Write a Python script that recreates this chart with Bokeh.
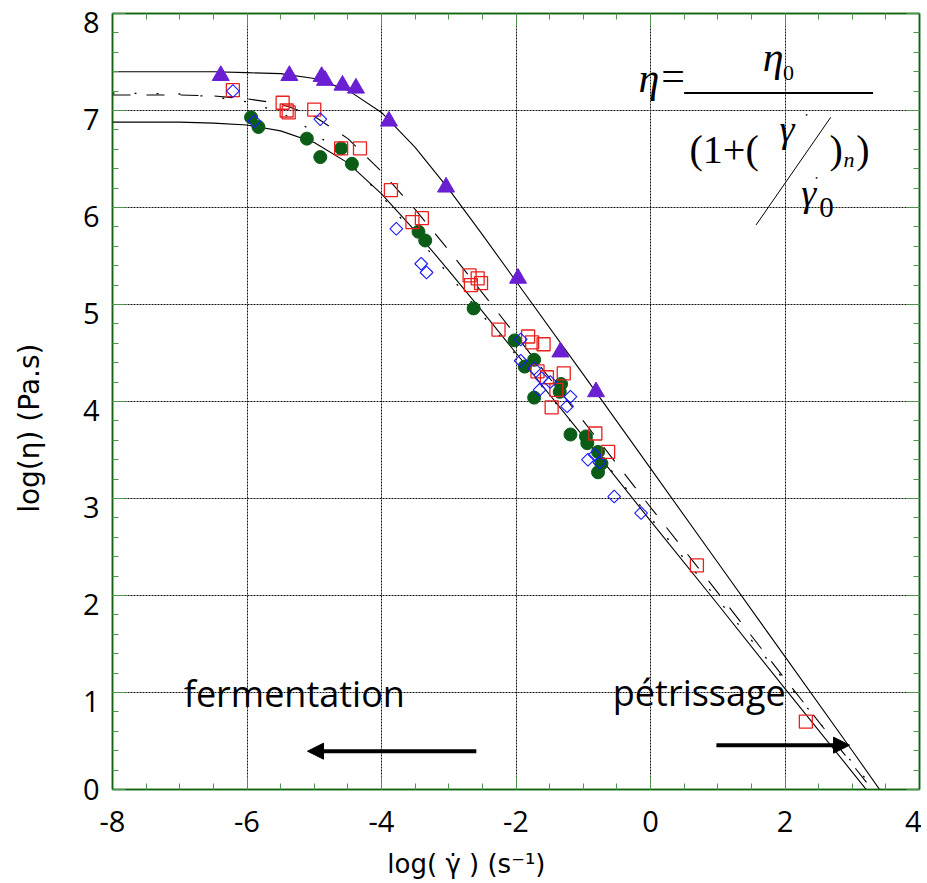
import numpy as np
from bokeh.plotting import figure
from bokeh.models import (LinearAxis, Range1d, FixedTicker, Label, Arrow, NormalHead,
                          ColumnDataSource)
from bokeh.embed import file_html
from bokeh.resources import INLINE

# ---------------- data ----------------
tri_x = [-6.39, -5.37, -4.89, -4.84, -4.58, -4.38, -3.89, -3.04, -1.97, -1.34, -0.81]
tri_y = [7.36, 7.36, 7.35, 7.31, 7.26, 7.23, 6.89, 6.21, 5.27, 4.51, 4.10]

circ_x = [-5.94, -5.83, -5.11, -4.91, -4.60, -4.44, -3.45, -3.35, -2.63, -2.02, -1.73,
          -1.87, -1.33, -1.35, -1.73, -1.19, -0.96, -0.94, -0.78, -0.78, -0.73]
circ_y = [6.93, 6.83, 6.71, 6.52, 6.61, 6.45, 5.75, 5.66, 4.96, 4.63, 4.43,
          4.36, 4.18, 4.10, 4.04, 3.66, 3.64, 3.57, 3.48, 3.27, 3.36]

sq_x = [-6.21, -5.47, -5.41, -5.38, -5.00, -4.60, -4.32, -3.86, -3.54, -3.40, -2.69,
        -2.57, -2.52, -2.67, -2.26, -1.82, -1.76, -1.59, -1.29, -1.68, -1.54, -1.40,
        -1.47, -0.82, -0.63, 0.69, 2.31]
sq_y = [7.21, 7.08, 7.00, 6.98, 7.01, 6.61, 6.61, 6.18, 5.85, 5.89, 5.30,
        5.27, 5.22, 5.20, 4.74, 4.67, 4.61, 4.59, 4.29, 4.31, 4.25, 4.12,
        3.94, 3.67, 3.48, 2.31, 0.70]

dia_x = [-6.21, -5.89, -4.91, -3.78, -3.41, -3.33, -1.93, -1.93, -1.73, -1.62, -1.49,
         -1.65, -1.19, -1.24, -0.93, -0.83, -0.76, -0.54, -0.14]
dia_y = [7.20, 6.89, 6.91, 5.78, 5.42, 5.33, 4.64, 4.42, 4.34, 4.24, 4.20,
         4.12, 4.05, 3.95, 3.40, 3.45, 3.37, 3.02, 2.85]

# fitted curves
fit_x = [-8, -7, -6.5, -6, -5.5, -5, -4.5, -4, -3.5, -3, -2.5, -2, -1, 0, 1, 2, 3, 3.6]
fit_top = [7.40, 7.40, 7.40, 7.39, 7.38, 7.33, 7.21, 6.98, 6.62, 6.19, 5.72, 5.24,
           4.28, 3.31, 2.34, 1.37, 0.40, -0.19]
fit_low = [6.88, 6.88, 6.87, 6.85, 6.79, 6.67, 6.46, 6.14, 5.76, 5.35, 4.93, 4.50,
           3.64, 2.77, 1.91, 1.04, 0.18, -0.34]
fit_dash = [7.16, 7.16, 7.15, 7.12, 7.07, 6.94, 6.71, 6.37, 5.98, 5.56, 5.12, 4.68,
            3.80, 2.91, 2.03, 1.14, 0.26, -0.27]
fit_dot = [7.18, 7.17, 7.14, 7.09, 6.98, 6.78, 6.48, 6.12, 5.72, 5.31, 4.89, 4.48,
           3.64, 2.80, 1.96, 1.12, 0.28, -0.23]

x_ticks = [-8, -6, -4, -2, 0, 2, 4]
x_tick_labels = ["-8", "-6", "-4", "-2", "0", "2", "4"]
y_ticks = [0, 1, 2, 3, 4, 5, 6, 7, 8]
y_tick_labels = ["0", "1", "2", "3", "4", "5", "6", "7", "8"]

NB = "\u00a0"

# ---------------- figure ----------------
p = figure(width=921, height=883, x_range=Range1d(-8, 4), y_range=Range1d(0, 8),
           output_backend="svg", toolbar_location=None,
           min_border_left=112, min_border_right=2, min_border_top=13, min_border_bottom=94)
p.background_fill_color = "white"
p.border_fill_color = "white"
p.outline_line_color = "#0e650e"
p.outline_line_width = 1.5

bottom_ax = p.below[0]
left_ax = p.left[0]

xt = FixedTicker(ticks=x_ticks, minor_ticks=list(np.arange(-8, 4.01, 0.5)))
yt = FixedTicker(ticks=y_ticks, minor_ticks=list(np.round(np.arange(0, 8.01, 0.2), 2)))
bottom_ax.ticker = xt
left_ax.ticker = yt
bottom_ax.major_label_overrides = dict(zip(x_ticks, x_tick_labels))

top_ax = LinearAxis(ticker=xt)
right_ax = LinearAxis(ticker=yt)
p.add_layout(top_ax, "above")
p.add_layout(right_ax, "right")

for ax in [bottom_ax, left_ax, top_ax, right_ax]:
    ax.axis_line_color = "#0e650e"
    ax.axis_line_width = 1.5
    ax.major_tick_in = 13
    ax.major_tick_out = 0
    ax.minor_tick_in = 6
    ax.minor_tick_out = 0
    ax.major_tick_line_color = "#4d944d"
    ax.minor_tick_line_color = "#4d944d"
    ax.major_label_text_font = "Open Sans"
    ax.major_label_text_color = "black"
    ax.major_label_text_font_size = "29px"
    ax.axis_label = None

# tick marks only on left / top / right frame axes
for ax in [left_ax, top_ax, right_ax]:
    ax.major_label_text_font_size = "0px"
    ax.major_label_text_color = None
    ax.major_label_standoff = 0

# y tick labels sit a little below their ticks in the reference: label-only axis
shift = 0.09
p.extra_y_ranges = {"labels": Range1d(shift, 8 + shift)}
lab_ticks = [max(v, shift + 0.001) for v in y_ticks]   # "0" kept at the frame bottom
lab_ax = LinearAxis(y_range_name="labels", ticker=FixedTicker(ticks=lab_ticks))
lab_ax.major_label_overrides = dict(zip(lab_ticks, y_tick_labels))
lab_ax.axis_line_color = None
lab_ax.major_tick_line_color = None
lab_ax.minor_tick_line_color = None
lab_ax.major_tick_in = 0
lab_ax.major_tick_out = 0
lab_ax.major_label_text_font = "Open Sans"
lab_ax.major_label_text_font_size = "29px"
lab_ax.major_label_text_color = "black"
lab_ax.major_label_standoff = 13
p.add_layout(lab_ax, "left")

bottom_ax.major_label_standoff = 21

lab_ax.axis_label = "log(η) (Pa.s)" + NB * 6
bottom_ax.axis_label = "log( γ̇ ) (s⁻¹)" + NB * 12
for ax in [bottom_ax, lab_ax]:
    ax.axis_label_text_font = "DejaVu Sans"
    ax.axis_label_text_font_style = "normal"
    ax.axis_label_text_color = "black"
lab_ax.axis_label_text_font_size = "28px"
bottom_ax.axis_label_text_font_size = "26px"
lab_ax.axis_label_standoff = 34
bottom_ax.axis_label_standoff = 14

p.xgrid[0].ticker = FixedTicker(ticks=[-6, -4, -2, 0, 2])
p.ygrid[0].ticker = FixedTicker(ticks=[1, 2, 3, 4, 5, 6, 7])
for g in [p.xgrid[0], p.ygrid[0]]:
    g.grid_line_color = "#111111"
    g.grid_line_dash = "2 1"
    g.grid_line_width = 1


def lab(x, y, t, size, font="DejaVu Sans", style="normal", **kw):
    p.add_layout(Label(x=x, y=y, text=t, text_font=font, text_font_size=size,
                       text_font_style=style, text_color="black", **kw))


# ---------------- fit curves ----------------
src_fit = ColumnDataSource(dict(x=fit_x, top=fit_top, low=fit_low, dash=fit_dash, dot=fit_dot))
p.line("x", "top", source=src_fit, line_color="black", line_width=1.1)
p.line("x", "low", source=src_fit, line_color="black", line_width=1.1)
p.line("x", "dash", source=src_fit, line_color="black", line_width=1.1, line_dash="18 16")
p.line("x", "dot", source=src_fit, line_color="black", line_width=1.3, line_dash="2 20")

# ---------------- markers ----------------
p.scatter(circ_x, circ_y, marker="circle", size=13, fill_color="#0b5c17", line_color="#0b5c17")
p.scatter(sq_x, sq_y, marker="square", size=13, fill_color=None, line_color="#e8211e",
          line_width=1.3)
p.scatter(dia_x, dia_y, marker="square", angle=np.pi / 4, size=9, fill_color=None,
          line_color="#1a1aff", line_width=1.1)
p.scatter(tri_x, tri_y, marker="triangle", size=17, fill_color="#6a1fd3", line_color="#6a1fd3")

# ---------------- annotations ----------------
lab(-6.94, 0.735, "fermentation", "36px", font="Open Sans")
lab(-0.56, 0.75, "pétrissage", "36px", font="Open Sans")
p.add_layout(Arrow(end=NormalHead(size=16, fill_color="black", line_color="black"),
                   x_start=-2.59, y_start=0.395, x_end=-5.10, y_end=0.395,
                   line_width=4, line_color="black"))
p.add_layout(Arrow(end=NormalHead(size=16, fill_color="black", line_color="black"),
                   x_start=0.98, y_start=0.457, x_end=2.96, y_end=0.457,
                   line_width=4, line_color="black"))

# formula (Cross model)
serif = "Liberation Serif"
lab(-0.18, 7.10, "η", "42px", font=serif, style="italic")
lab(0.16, 7.12, "=", "42px", font=serif)
lab(1.67, 7.31, "η", "42px", font=serif, style="italic")
lab(1.97, 7.31, "0", "22px", font=serif)
lab(0.58, 6.37, "(1+(", "40px", font=serif)
lab(1.92, 6.59, "γ", "38px", font=serif, style="italic")
lab(2.66, 6.37, ")", "40px", font=serif)
lab(2.87, 6.37, "n", "22px", font=serif, style="italic")
lab(3.06, 6.37, ")", "40px", font=serif)
lab(2.24, 5.93, "γ", "38px", font=serif, style="italic")
lab(2.51, 5.90, "0", "29px", font=serif)
lab(2.32, 6.96, "•", "6px", text_align="center", text_baseline="middle")
lab(2.47, 6.31, "•", "6px", text_align="center", text_baseline="middle")
p.segment(x0=[0.50], y0=[7.18], x1=[3.31], y1=[7.18], line_color="black", line_width=2)
p.segment(x0=[2.68], y0=[6.93], x1=[1.57], y1=[5.82], line_color="black", line_width=1)

open("out.html", "w").write(file_html(p, INLINE))
